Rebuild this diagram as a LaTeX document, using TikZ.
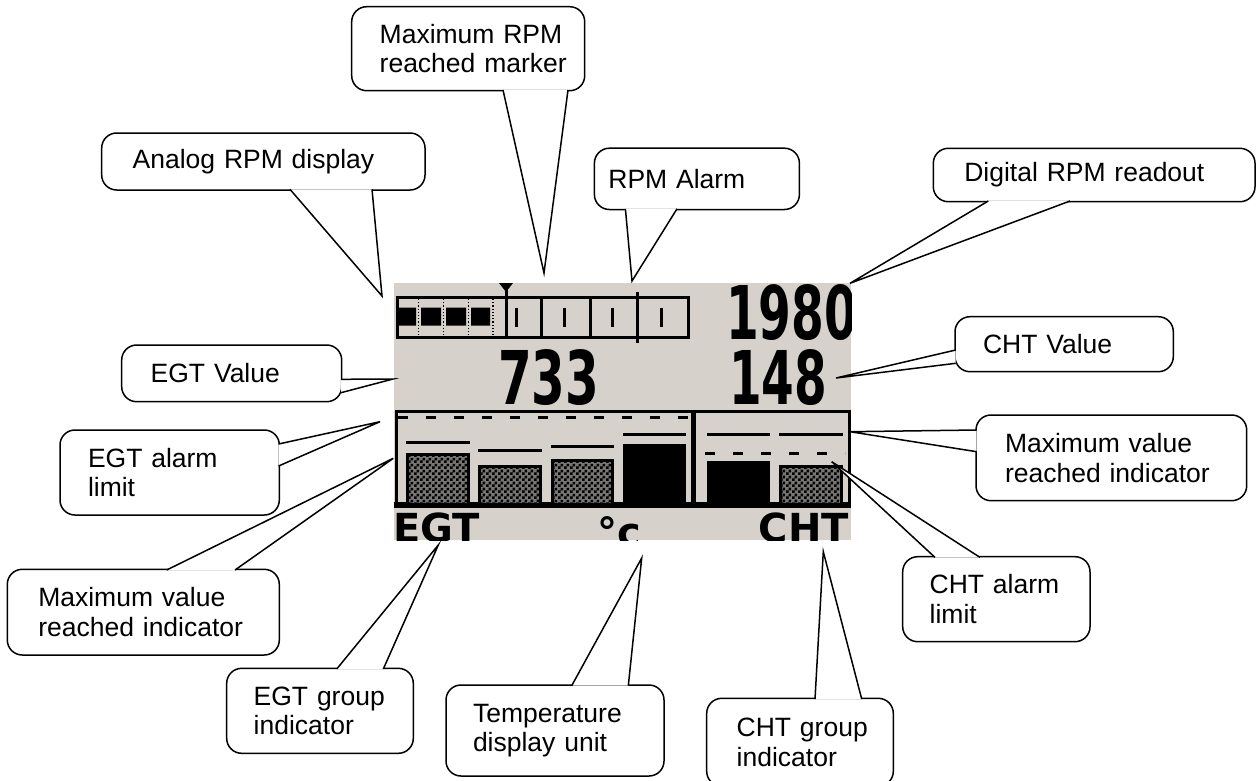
\documentclass[tikz,border=0pt]{standalone}
\usepackage{fontspec}
\setmainfont{Liberation Sans}
\newfontfamily\lcdlabel{DejaVu Sans}
\usetikzlibrary{calc, patterns}
\usepackage{xcolor}
\definecolor{cLcd}{RGB}{214, 210, 203}
\definecolor{cHatch}{RGB}{120, 118, 114}
\definecolor{bCall}{RGB}{0, 0, 0}
\pgfdeclarepatternformonly{lcdcheck}{\pgfpointorigin}{\pgfqpoint{6pt}{6pt}}{\pgfqpoint{6pt}{6pt}}{%
    \pgfpathrectangle{\pgfpointorigin}{\pgfqpoint{3pt}{3pt}}%
    \pgfpathrectangle{\pgfqpoint{3pt}{3pt}}{\pgfqpoint{3pt}{3pt}}%
    \pgfusepath{fill}}

\begin{document}
\begin{tikzpicture}[
    x=1pt, y=-1pt,
    callout/.style={
        draw=bCall,
        line width=1.5pt,
        fill=white,
        rounded corners=15pt,
        anchor=north west,
        align=left,
        inner xsep=#1,
        inner ysep=0pt,
        outer sep=0pt,
        font=\fontsize{26.5pt}{29.5pt}\selectfont
    },
    callout/.default=28pt,
    tail/.style={draw=bCall, fill=white, line width=1.5pt},
    lcd/.style={line width=3pt},
    hatch/.style={line width=3pt, preaction={fill=cHatch}, pattern=lcdcheck},
    lcdnum/.style={inner sep=0pt, font=\lcdlabel\bfseries},
    lcdtext/.style={inner sep=0pt, font=\lcdlabel\bfseries\fontsize{40pt}{40pt}\selectfont}
]
\useasboundingbox (0,0) rectangle (1257,780);

% LCD screen
\fill[cLcd] (394,283) rectangle (851,540);
\begin{scope}
\clip (394,283) rectangle (851,540);

% analog RPM bar
\draw[lcd] (397.5,297.5) rectangle (688,337.5);
\fill (396,307.5) rectangle (416,325.5) (421,307.5) rectangle (441,325.5)
      (446,307.5) rectangle (466,325.5) (471,307.5) rectangle (490,325.5);
\draw[dotted, line width=1.2pt] (418.5,299) -- (418.5,336) (443.5,299) -- (443.5,336)
      (468.5,299) -- (468.5,336) (493,299) -- (493,336);
\draw[lcd] (541,297.5) -- (541,337.5) (590,297.5) -- (590,337.5);
\draw[lcd] (516,308) -- (516,327) (564,308) -- (564,327)
      (612,308) -- (612,327) (661,308) -- (661,327);
\draw[lcd] (506,283) -- (506,337.5);
\fill (499,283) -- (513,283) -- (506,292) -- cycle;
\draw[lcd] (637,292) -- (637,343);

% digital readouts
\node[lcdnum, anchor=north west] (rpm) at (726,284) {\resizebox{131pt}{55pt}{1980}};
\node[lcdnum, anchor=north west] (egtv) at (498,349) {\resizebox{101pt}{55pt}{733}};
\node[lcdnum, anchor=north west] (chtv) at (729,349) {\resizebox{98pt}{55pt}{148}};

% bar graphs
\draw[lcd] (396.5,505) -- (396.5,411) -- (849.5,411) -- (849.5,505);
\fill (394,502) rectangle (851,508);
\fill (691,411) rectangle (696,505);
\draw[lcd, dash pattern=on 10pt off 18pt] (398,417.5) -- (690,417.5);
\draw[lcd, dash pattern=on 10pt off 18pt] (705,453.5) -- (845,453.5);

\draw[lcd] (406,442.7) -- (470,442.7) (478,450) -- (542,450) (551,446.7) -- (614,446.7)
      (623,434) -- (686,434) (707,434) -- (770,434) (779,434) -- (843,434);
\draw[hatch] (407.5,454.2) rectangle (468.5,504);
\draw[hatch] (479.5,466.5) rectangle (540.5,504);
\draw[hatch] (552.5,460.8) rectangle (612.5,504);
\fill (623,444.3) rectangle (686,504);
\fill (707,460.7) rectangle (770,504);
\draw[hatch] (780.5,466.5) rectangle (841.5,504);

\node[lcdtext, anchor=base west] (egt) at (393,542) {EGT};
\node[lcdtext, anchor=base west] (unit) at (597,546) {°c};
\node[lcdtext, anchor=base east] (cht) at (849,542) {CHT};
\end{scope}

% Callouts above the screen
\node[callout=31pt, text width=261.3pt, minimum height=57pt] (an) at (101.7,133) {Analog RPM display};
\coordinate (tAn) at (382,296);
\path[tail] ([xshift=188.3pt,yshift=0.7pt]an.south west) -- (tAn) -- ([xshift=270.3pt,yshift=0.7pt]an.south west);

\node[callout=28pt, text width=177pt, minimum height=84pt] (mx) at (351.7,6.7) {Maximum~RPM\\reached~marker};
\coordinate (tMx) at (544,273);
\path[tail] ([xshift=151.3pt,yshift=0.7pt]mx.south west) -- (tMx) -- ([xshift=216.3pt,yshift=0.7pt]mx.south west);

\node[callout=14pt, text width=177pt, minimum height=61.3pt] (al) at (594.4,148.2) {RPM Alarm};
\coordinate (tAl) at (632,281);
\path[tail] ([xshift=31pt,yshift=0.7pt]al.south west) -- (tAl) -- ([xshift=82.6pt,yshift=0.7pt]al.south west);

\node[callout=31pt, text width=259.7pt, minimum height=53.4pt] (dg) at (933.3,148.3) {Digital RPM readout};
\coordinate (tDg) at (850,283.3);
\path[tail] ([xshift=55pt,yshift=0.7pt]dg.south west) -- (tDg) -- ([xshift=136.7pt,yshift=0.7pt]dg.south west);

% Callouts beside the screen
\node[callout=29pt, text width=162pt, minimum height=56.7pt] (ev) at (121.7,345) {EGT Value};
\coordinate (tEv) at (393,379);
\path[tail] ([yshift=-34.3pt,xshift=-0.7pt]ev.north east) -- (tEv) -- ([yshift=-47.7pt,xshift=-0.7pt]ev.north east);

\node[callout=28pt, text width=162.3pt, minimum height=55pt] (cv) at (955,316.7) {CHT Value};
\coordinate (tCv) at (836,378);
\path[tail] ([yshift=-33.3pt,xshift=0.7pt]cv.north west) -- (tCv) -- ([yshift=-46.6pt,xshift=0.7pt]cv.north west);

\node[callout=28pt, text width=163.3pt, minimum height=85pt] (ea) at (60,430) {EGT alarm\\limit};
\coordinate (tEa) at (380,421.7);
\path[tail] ([yshift=-14pt,xshift=-0.7pt]ea.north east) -- (tEa) -- ([yshift=-36pt,xshift=-0.7pt]ea.north east);

\node[callout=29pt, text width=212.7pt, minimum height=85.7pt] (mr) at (976,415) {Maximum value\\reached indicator};
\coordinate (tMr) at (850,431.7);
\path[tail] ([yshift=-15pt,xshift=0.7pt]mr.north west) -- (tMr) -- ([yshift=-36.7pt,xshift=0.7pt]mr.north west);

% Callouts below the screen
\node[callout=31pt, text width=210pt, minimum height=85.7pt] (ml) at (7.3,569.3) {Maximum value\\reached indicator};
\coordinate (tMl) at (393.3,458.3);
\path[tail] ([xshift=159.4pt,yshift=-0.7pt]ml.north west) -- (tMl) -- ([xshift=227.7pt,yshift=-0.7pt]ml.north west);

\node[callout=27pt, text width=133.3pt, minimum height=85pt] (ca) at (902.7,556.7) {CHT alarm\\limit};
\coordinate (tCa) at (831.7,461.7);
\path[tail] ([xshift=32.3pt,yshift=-0.7pt]ca.north west) -- (tCa) -- ([xshift=77.3pt,yshift=-0.7pt]ca.north west);

\node[callout=27pt, text width=132.6pt, minimum height=85pt] (eg) at (226.7,668.3) {EGT~group\\indicator};
\coordinate (tEg) at (438.3,545);
\path[tail] ([xshift=110pt,yshift=-0.7pt]eg.north west) -- (tEg) -- ([xshift=156.6pt,yshift=-0.7pt]eg.north west);

\node[callout=27pt, text width=164pt, minimum height=91pt] (td) at (446,685) {Temperature\\display unit};
\coordinate (tTd) at (641.7,558);
\path[tail] ([xshift=125.7pt,yshift=-0.7pt]td.north west) -- (tTd) -- ([xshift=182.3pt,yshift=-0.7pt]td.north west);

\node[callout=30pt, text width=126.6pt, minimum height=88pt] (cg) at (706.7,698.3) {CHT~group\\indicator};
\coordinate (tCg) at (823.3,551.7);
\path[tail] ([xshift=108.3pt,yshift=-0.7pt]cg.north west) -- (tCg) -- ([xshift=155pt,yshift=-0.7pt]cg.north west);

\end{tikzpicture}
\end{document}
